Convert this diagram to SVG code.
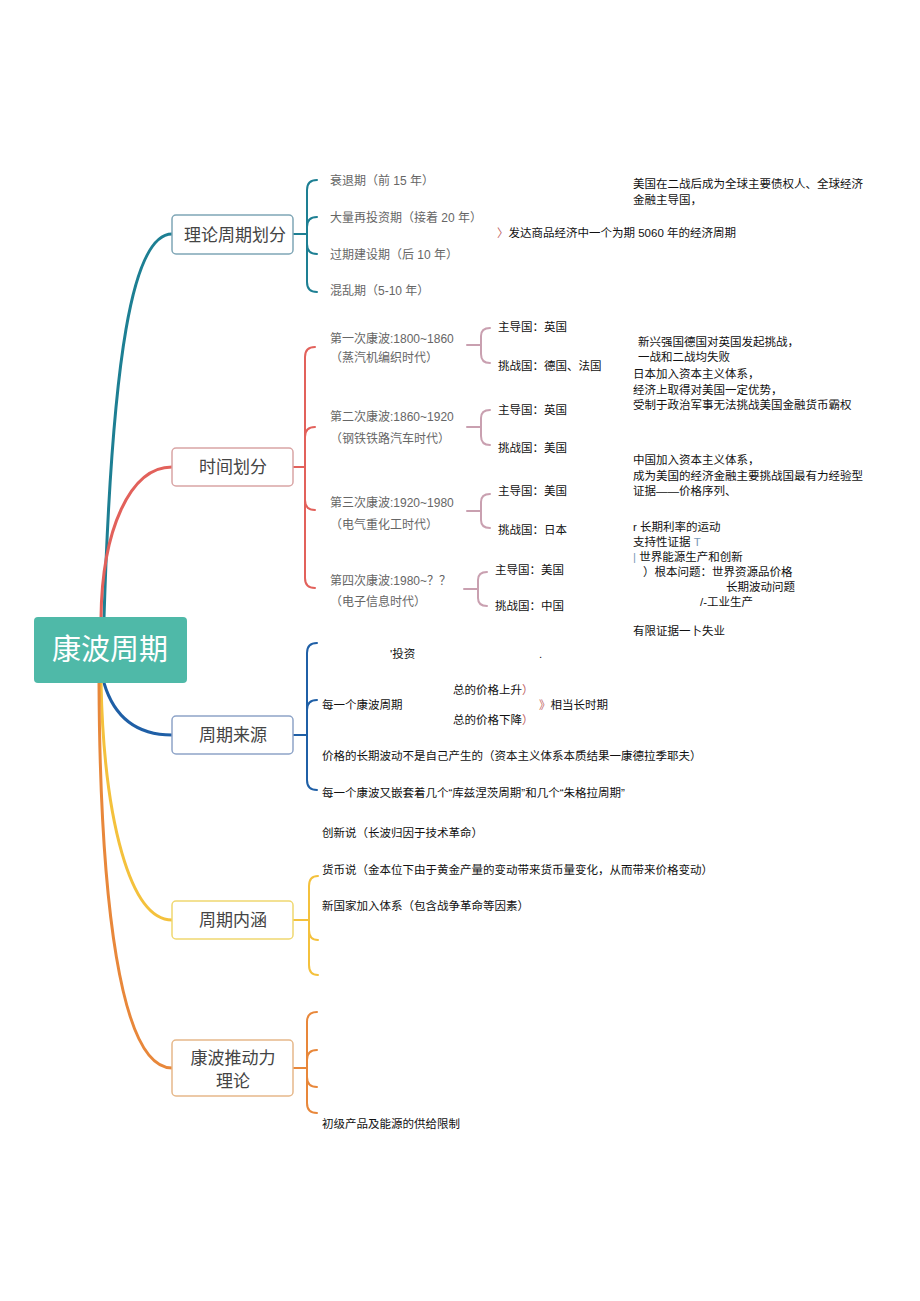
<svg xmlns="http://www.w3.org/2000/svg" width="920" height="1301" viewBox="0 0 920 1301">
<style>
text{font-family:"Liberation Sans","Noto Sans CJK SC",sans-serif}
.br{fill:#fff;stroke-width:1.5}
.bt{font-size:17px;fill:#444;text-anchor:middle}
.g{font-size:12px;fill:#666}
.k{font-size:11.5px;fill:#111}
.c{fill:none;stroke-width:3;stroke-linecap:round}
.b{fill:none;stroke-width:2;stroke-linecap:round}
</style>
<rect width="920" height="1301" fill="#fff"/>
<g id="connectors">
<path class="c" stroke="#1d7f93" d="M104 618 C112 360 132 234 172 234"/>
<path class="c" stroke="#e2615b" d="M101 618 C102 530 130 467 172 467"/>
<path class="c" stroke="#1f5fa6" d="M104 683 C115 720 140 735 172 735"/>
<path class="c" stroke="#f4c13c" d="M101 683 C104 820 130 920 172 920"/>
<path class="c" stroke="#e8873a" d="M99 683 C100 900 120 1068 172 1068"/>
<g stroke="#1d7f93" class="b">
<path d="M293 234 H307 M307 190 V282 M307 190 Q307 180 317 180 M307 227 Q307 217 317 217 M307 244 Q307 254 317 254 M307 282 Q307 292 317 292"/>
</g>
<g stroke="#e2615b" class="b">
<path d="M293 467 H305 M305 357 V578 M305 357 Q305 347 315 347 M305 437 Q305 427 315 427 M305 500 Q305 510 315 510 M305 578 Q305 588 315 588"/>
</g>
<g stroke="#c9a0b0" class="b" stroke-width="1.5">
<path d="M467 345 H481 M481 336 V354 M481 336 Q481 328 490 328 M481 354 Q481 363 490 363"/>
<path d="M467 427 H481 M481 418 V436 M481 418 Q481 410 490 410 M481 436 Q481 445 490 445"/>
<path d="M467 511 H481 M481 502 V520 M481 502 Q481 494 490 494 M481 520 Q481 528 490 528"/>
<path d="M464 589 H478 M478 580 V598 M478 580 Q478 572 487 572 M478 598 Q478 606 487 606"/>
</g>
<g stroke="#1f5fa6" class="b">
<path d="M293 735 H307 M307 653 V780 M307 653 Q307 643 317 643 M307 710 Q307 700 317 700 M307 780 Q307 790 317 790"/>
</g>
<g stroke="#f4c13c" class="b">
<path d="M293 920 H309 M309 886 V965 M309 886 Q309 876 318 876 M309 930 Q309 940 318 940 M309 965 Q309 975 318 975"/>
</g>
<g stroke="#e8873a" class="b">
<path d="M293 1068 H307 M307 1022 V1103 M307 1022 Q307 1012 317 1012 M307 1060 Q307 1050 317 1050 M307 1077 Q307 1087 317 1087 M307 1103 Q307 1113 317 1113"/>
</g>
</g>
<g id="root">
<rect x="34" y="617" width="153" height="66" rx="4" fill="#4fb9a8"/>
<text x="110" y="660" font-size="29" fill="#fff" text-anchor="middle">康波周期</text>
</g>
<g id="n1">
<rect class="br" stroke="#7fa6b6" x="172" y="215" width="121" height="39" rx="4"/>
<text class="bt" x="235" y="241">理论周期划分</text>
<text class="g" x="330" y="185">衰退期（前 15 年）</text>
<text class="g" x="330" y="222">大量再投资期（接着 20 年）</text>
<text class="g" x="330" y="259">过期建设期（后 10 年）</text>
<text class="g" x="330" y="295">混乱期（5-10 年）</text>
<text class="k" x="497" y="237"><tspan fill="#c06060">〉</tspan>发达商品经济中一个为期 5060 年的经济周期</text>
<text class="k" x="633" y="188">美国在二战后成为全球主要债权人、全球经济</text>
<text class="k" x="633" y="204">金融主导国，</text>
</g>
<g id="n2">
<rect class="br" stroke="#d9a5a5" x="172" y="448" width="121" height="38" rx="4"/>
<text class="bt" x="233" y="473">时间划分</text>
<text class="g" x="330" y="343">第一次康波:1800~1860</text>
<text class="g" x="330" y="362">（蒸汽机编织时代）</text>
<text class="g" x="330" y="421">第二次康波:1860~1920</text>
<text class="g" x="330" y="443">（钢铁铁路汽车时代）</text>
<text class="g" x="330" y="507">第三次康波:1920~1980</text>
<text class="g" x="330" y="529">（电气重化工时代）</text>
<text class="g" x="330" y="585">第四次康波:1980~？？</text>
<text class="g" x="330" y="606">（电子信息时代）</text>
<text class="k" x="498" y="331">主导国：英国</text>
<text class="k" x="498" y="370">挑战国：德国、法国</text>
<text class="k" x="498" y="414">主导国：英国</text>
<text class="k" x="498" y="452">挑战国：美国</text>
<text class="k" x="498" y="495">主导国：美国</text>
<text class="k" x="498" y="534">挑战国：日本</text>
<text class="k" x="495" y="574">主导国：美国</text>
<text class="k" x="495" y="610">挑战国：中国</text>
<text class="k" x="638" y="346">新兴强国德国对英国发起挑战，</text>
<text class="k" x="638" y="361">一战和二战均失败</text>
<text class="k" x="633" y="378">日本加入资本主义体系，</text>
<text class="k" x="633" y="394">经济上取得对美国一定优势，</text>
<text class="k" x="633" y="409">受制于政治军事无法挑战美国金融货币霸权</text>
<text class="k" x="633" y="464">中国加入资本主义体系，</text>
<text class="k" x="633" y="480">成为美国的经济金融主要挑战国最有力经验型</text>
<text class="k" x="633" y="495">证据——价格序列、</text>
<text class="k" x="633" y="531">r 长期利率的运动</text>
<text class="k" x="633" y="546">支持性证据 <tspan fill="#7a9ab8">T</tspan></text>
<text class="k" x="633" y="561"><tspan fill="#7a9ab8">|</tspan> 世界能源生产和创新</text>
<text class="k" x="643" y="576">）根本问题：世界资源品价格</text>
<text class="k" x="726" y="591">长期波动问题</text>
<text class="k" x="700" y="606">/-工业生产</text>
<text class="k" x="633" y="635">有限证据一卜失业</text>
</g>
<g id="n3">
<rect class="br" stroke="#8ea4c8" x="172" y="716" width="121" height="38" rx="4"/>
<text class="bt" x="233" y="741">周期来源</text>
<text class="k" x="390" y="658">'投资</text>
<text class="k" x="539" y="658">.</text>
<text class="k" x="322" y="709">每一个康波周期</text>
<text class="k" x="453" y="694">总的价格上升<tspan fill="#c06060">）</tspan></text>
<text class="k" x="453" y="724">总的价格下降<tspan fill="#c06060">）</tspan></text>
<text class="k" x="539" y="709"><tspan fill="#c06060">》</tspan>相当长时期</text>
<text class="k" x="322" y="760">价格的长期波动不是自己产生的（资本主义体系本质结果一康德拉季耶夫）</text>
<text class="k" x="322" y="797">每一个康波又嵌套着几个“库兹涅茨周期”和几个“朱格拉周期”</text>
</g>
<g id="n4">
<rect class="br" stroke="#f0d870" x="172" y="901" width="121" height="38" rx="4"/>
<text class="bt" x="233" y="926">周期内涵</text>
<text class="k" x="322" y="837">创新说（长波归因于技术革命）</text>
<text class="k" x="322" y="874">货币说（金本位下由于黄金产量的变动带来货币量变化，从而带来价格变动）</text>
<text class="k" x="322" y="910">新国家加入体系（包含战争革命等因素）</text>
</g>
<g id="n5">
<rect class="br" stroke="#e6b88a" x="172" y="1040" width="121" height="56" rx="4"/>
<text class="bt" x="233" y="1064">康波推动力</text>
<text class="bt" x="233" y="1087">理论</text>
<text class="k" x="322" y="1128">初级产品及能源的供给限制</text>
</g>
</svg>
